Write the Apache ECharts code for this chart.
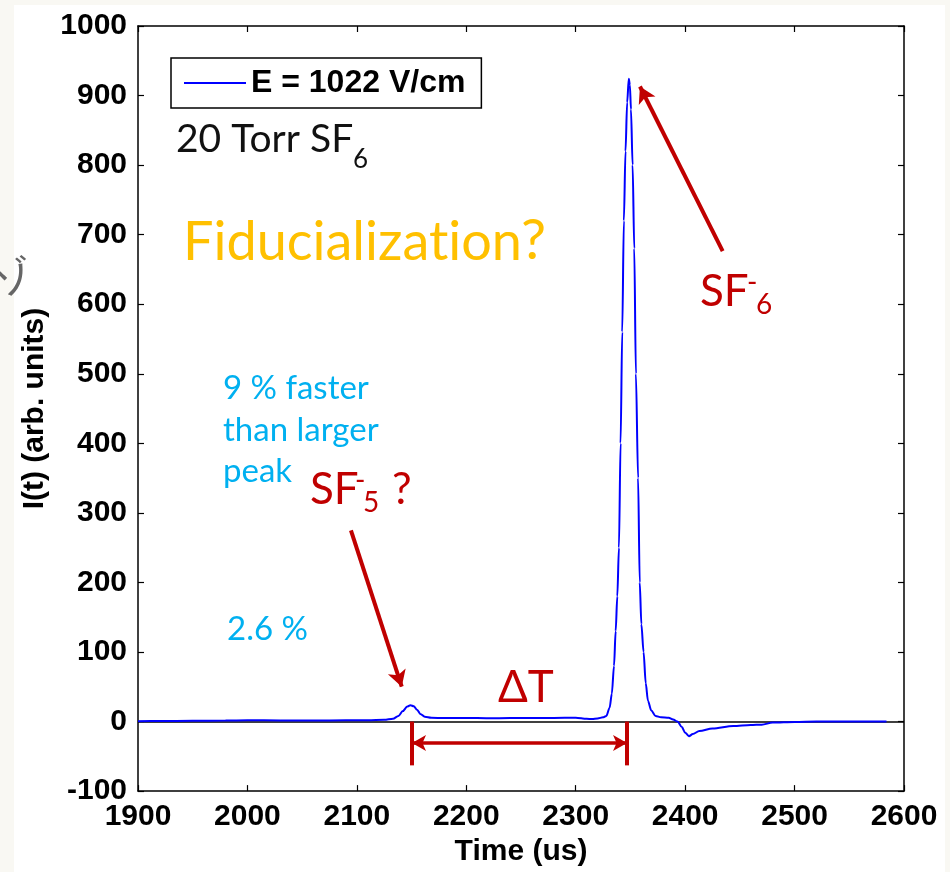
<!DOCTYPE html>
<html>
<head>
<meta charset="utf-8">
<script src="https://cdn.jsdelivr.net/npm/echarts@6/dist/echarts.min.js"></script>
<style>
  body { margin: 0; background: #f9f8f3; }
  #wrap { position: relative; width: 950px; height: 872px; background: #f9f8f3; }
  #paper { position: absolute; left: 14px; top: 5px; width: 931px; height: 867px; background: #fff; }
  #main { position: absolute; left: 0; top: 0; width: 950px; height: 872px; }
</style>
</head>
<body>
<div id="wrap">
<div id="paper"></div>
<div id="main"></div>
</div>

<script type="text/javascript">

    // 时间 (us) 与 电流 I(t) 读数
    var timeUs = [1900, 1920, 1950, 1980, 2000, 2030, 2060, 2090, 2110, 2125, 2133, 2138, 2142, 2146,
        2149, 2152, 2155, 2158, 2162, 2168, 2180, 2200, 2220, 2240, 2260, 2280, 2300, 2310, 2315,
        2320, 2325, 2328, 2331, 2333, 2335, 2336.5, 2338, 2339.5, 2341, 2342.5, 2344, 2345.5, 2347,
        2348.5, 2349.5, 2350.5, 2352, 2353.5, 2355, 2357, 2358.5, 2360, 2362, 2364, 2366, 2369, 2373,
        2378, 2385, 2389, 2393, 2397, 2400, 2403.5, 2407, 2413, 2425, 2444, 2460, 2470, 2480, 2500,
        2520, 2550, 2584];
    var current = [0.5, 0.8, 1.0, 1.5, 1.8, 1.6, 1.5, 1.8, 2.0, 2.5, 4, 8, 15, 21.5,
        23.5, 22, 17, 11, 7, 5.5, 5, 5.2, 4.8, 5, 5, 5.2, 5.5, 4, 3.5,
        4.5, 6, 8, 20, 40, 80, 130, 180, 250, 400, 560, 720, 820, 890,
        924, 915, 880, 800, 680, 500, 350, 200, 140, 100, 55, 30, 16, 8,
        6, 5.5, 3, 0, -8, -16, -21, -18, -13.5, -10, -6.5, -5, -4.5, -1.5, -0.5,
        0, 0, 0];

    var xTicks = { min: 1900, max: 2600, interval: 100 };
    var yTicks = { min: -100, max: 1000, interval: 100 };
    var seriesName = 'E = 1022 V/cm';

    var seriesData = timeUs.map(function (t, i) { return [t, current[i]]; });

    var red = '#c00000';
    var blue = '#00b0f0';
    var gold = '#ffc000';
    var annoFont = 'Lato, "Open Sans", sans-serif';
    var axisFont = '"Liberation Sans", Arial, sans-serif';

    var myChart = echarts.init(document.getElementById('main'));

    var axisCommon = {
        axisLine: { show: true, onZero: false, lineStyle: { color: '#000', width: 1.5 } },
        axisTick: { show: true, inside: true, length: 6, lineStyle: { color: '#000', width: 1.2 } },
        splitLine: { show: false }
    };
    var tickLabel = {
        fontSize: 30, color: '#000', fontWeight: 'bold', margin: 11,
        formatter: function (v) { return String(v); }
    };

    function gtext(text, x, y, size, color, rich) {
        return {
            type: 'text', x: x, y: y, z: 100,
            style: {
                text: text, fill: color, fontSize: size, rich: rich,
                fontFamily: annoFont, verticalAlign: 'middle', align: 'left'
            }
        };
    }

    // 分段绘制, 避免 "ti" 连字
    var fidRich = { a: { fontSize: 54, fontFamily: annoFont, fill: gold } };

    var option = {
        animation: false,
        textStyle: { fontFamily: axisFont, color: '#000' },
        grid: { left: 138, top: 26, width: 766, height: 767, show: false },
        legend: {
            left: 171, top: 58,
            padding: [9, 16, 9, 13],
            backgroundColor: '#fff',
            borderColor: '#000', borderWidth: 1.5,
            icon: 'rect', itemWidth: 62, itemHeight: 2,
            textStyle: { fontSize: 32, color: '#000', fontWeight: 'bold', fontFamily: axisFont },
            data: [seriesName]
        },
        xAxis: [
            Object.assign({
                type: 'value', position: 'bottom',
                min: xTicks.min, max: xTicks.max, interval: xTicks.interval,
                name: 'Time (us)', nameLocation: 'middle', nameGap: 44,
                nameTextStyle: { fontSize: 30, color: '#000', fontWeight: 'bold' },
                axisLabel: tickLabel
            }, axisCommon),
            Object.assign({
                type: 'value', position: 'top',
                min: xTicks.min, max: xTicks.max, interval: xTicks.interval,
                axisLabel: { show: false }
            }, axisCommon)
        ],
        yAxis: [
            Object.assign({
                type: 'value', position: 'left',
                min: yTicks.min, max: yTicks.max, interval: yTicks.interval,
                name: 'I(t) (arb. units)', nameLocation: 'middle', nameGap: 86,
                nameTextStyle: { fontSize: 30, color: '#000', fontWeight: 'bold' },
                axisLabel: tickLabel
            }, axisCommon),
            Object.assign({
                type: 'value', position: 'right',
                min: yTicks.min, max: yTicks.max, interval: yTicks.interval,
                axisLabel: { show: false }
            }, axisCommon)
        ],
        series: [{
            name: seriesName,
            type: 'line',
            data: seriesData,
            symbol: 'none',
            smooth: 0.3,
            smoothMonotone: 'x',
            lineStyle: { color: '#0000ff', width: 2 },
            itemStyle: { color: '#0000ff' },
            z: 5,
            markLine: {
                silent: true,
                label: { show: false },
                data: [
                    // 零线
                    [{ coord: [xTicks.min, 0], symbol: 'none', lineStyle: { color: '#000', width: 1.5, type: 'solid' } },
                     { coord: [xTicks.max, 0], symbol: 'none' }],
                    // SF6- 箭头
                    [{ coord: [2434.3, 676.3], symbol: 'none', lineStyle: { color: red, width: 4, type: 'solid' } },
                     { coord: [2358.7, 913], symbol: 'arrow', symbolSize: [14, 16] }],
                    // SF5- 箭头
                    [{ coord: [2094.6, 274.8], symbol: 'none', lineStyle: { color: red, width: 4, type: 'solid' } },
                     { coord: [2141, 50.2], symbol: 'arrow', symbolSize: [14, 16] }],
                    // ΔT
                    [{ coord: [2150.4, -31], symbol: 'arrow', symbolSize: [12, 14], lineStyle: { color: red, width: 3.5, type: 'solid' } },
                     { coord: [2346.9, -31], symbol: 'arrow', symbolSize: [12, 14] }],
                    [{ coord: [2150.4, 0], symbol: 'none', lineStyle: { color: red, width: 4, type: 'solid' } },
                     { coord: [2150.4, -63], symbol: 'none' }],
                    [{ coord: [2346.9, 0], symbol: 'none', lineStyle: { color: red, width: 4, type: 'solid' } },
                     { coord: [2346.9, -63], symbol: 'none' }]
                ]
            }
        }],
        graphic: [
            gtext('20 Torr SF', 176, 139, 39, '#111'),
            gtext('6', 353, 160, 26, '#111'),
            gtext('{a|Fiducializat}{a|ion}', 183, 243, 54, gold, fidRich),
            gtext('?', 521, 241, 56, gold),
            gtext('SF', 700, 292, 44, red),
            gtext('-', 747, 283, 28, red),
            gtext('6', 756, 305, 28, red),
            gtext('9 % faster', 223, 388, 33, blue),
            gtext('than larger', 223, 430, 33, blue),
            gtext('peak', 223, 471, 33, blue),
            gtext('SF', 310, 490, 44, red),
            gtext('-', 355, 481, 28, red),
            gtext('5', 363, 503, 28, red),
            gtext('?', 392, 490, 44, red),
            gtext('2.6 %', 227, 629, 33, blue),
            gtext('\u0394T', 498, 688, 44, red),
            {
                type: 'text', x: -12, y: 264, rotation: 0.3, z: 100,
                style: { text: 'ゾ', fill: '#666', fontSize: 40, fontFamily: '"Noto Sans CJK JP"' }
            }
        ]
    };

    myChart.setOption(option);

</script>
</body>
</html>
